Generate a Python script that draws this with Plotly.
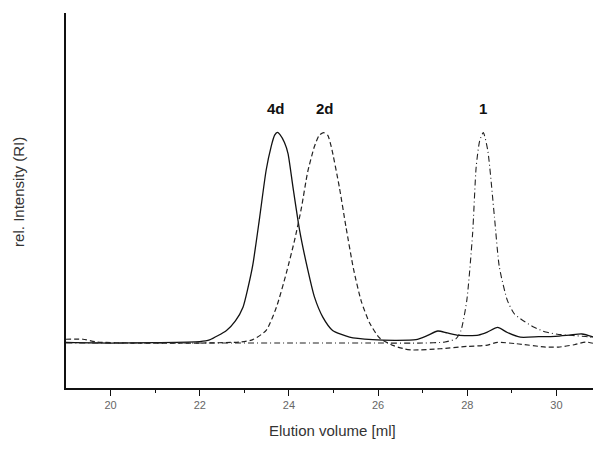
import plotly.graph_objects as go

# Elution volume (ml) and relative RI intensity
x_4d = [19.0, 20.0, 21.0, 22.0, 22.22, 22.6, 22.8, 22.97, 23.08, 23.19, 23.34, 23.49, 23.6, 23.68, 23.74, 23.8,
        23.9, 23.98, 24.09, 24.24, 24.42, 24.57, 24.76, 24.98, 25.36, 25.88, 26.4, 26.85, 27.1, 27.34, 27.55,
        27.82, 28.25, 28.45, 28.68, 28.9, 29.19, 29.6, 29.97, 30.3, 30.57, 30.8, 31.0]
y_4d = [0.3, 0.0, 0.2, 0.7, 1.5, 6.0, 10.5, 17.0, 26.0, 37.0, 59.0, 82.0, 93.0, 98.5, 99.8, 98.8,
        95.0, 89.8, 74.0, 53.4, 35.0, 22.0, 12.3, 6.0, 2.8, 1.6, 1.3, 1.6, 3.5, 5.7, 4.8,
        3.6, 3.8, 5.2, 7.4, 5.0, 2.8, 3.0, 3.2, 3.8, 4.3, 3.0, 1.2]

x_2d = [19.0, 19.38, 19.7, 20.5, 22.0, 22.9, 23.19, 23.49, 23.72, 23.94, 24.13, 24.28, 24.42, 24.57, 24.68,
        24.78, 24.87, 24.95, 25.13, 25.28, 25.45, 25.62, 25.81, 26.03, 26.33, 26.6, 26.79, 27.39, 27.99,
        28.42, 28.68, 29.1, 29.76, 30.05, 30.4, 30.66, 31.0]
y_2d = [1.8, 1.8, 0.5, 0.0, 0.0, 0.5, 1.6, 6.0, 17.0, 33.0, 49.0, 64.0, 81.0, 93.0, 98.5,
        99.7, 98.5, 93.0, 74.0, 55.0, 35.0, 20.0, 9.5, 2.5, -1.1, -2.8, -3.3, -2.7, -1.6,
        -1.1, 0.3, -0.3, -1.9, -1.9, -0.8, 0.5, -1.1]

x_1 = [19.0, 20.0, 22.0, 24.0, 26.0, 27.0, 27.5, 27.75, 27.86, 27.99, 28.12, 28.2, 28.28, 28.36, 28.46, 28.61,
       28.72, 28.9, 29.05, 29.24, 29.5, 29.76, 30.1, 30.36, 30.7, 30.98]
y_1 = [0.0, 0.0, 0.0, 0.0, 0.0, 0.0, 0.5, 2.1, 6.0, 20.2, 51.8, 83.4, 96.0, 99.7, 91.3, 59.7,
       36.0, 20.2, 14.0, 10.8, 7.5, 5.2, 4.0, 3.6, 3.0, 2.1]

peak_labels = ["4d", "2d", "1"]
peak_pos = [23.72, 24.82, 28.36]

x_ticks = [20, 22, 24, 26, 28, 30]

FONT = "Liberation Sans, Arial"

fig = go.Figure()
fig.add_trace(go.Scatter(x=x_4d, y=y_4d, mode="lines",
                         line=dict(color="#111111", width=1.3, shape="spline", smoothing=0.6)))
fig.add_trace(go.Scatter(x=x_2d, y=y_2d, mode="lines",
                         line=dict(color="#222222", width=1.2, dash="5px,3px", shape="spline", smoothing=0.6)))
fig.add_trace(go.Scatter(x=x_1, y=y_1, mode="lines",
                         line=dict(color="#222222", width=1.1, dash="6px,3px,1px,3px", shape="spline", smoothing=0.6)))

for lab, px in zip(peak_labels, peak_pos):
    fig.add_annotation(x=px, y=111, text="<b>" + lab + "</b>", showarrow=False,
                       font=dict(family=FONT, size=15, color="#111111"),
                       xanchor="center", yanchor="middle")

# axis titles as annotations for exact placement
fig.add_annotation(xref="paper", yref="paper", x=0.499, y=0, yshift=-42,
                   text="Elution volume [ml]", showarrow=False,
                   font=dict(family=FONT, size=15, color="#333333"),
                   xanchor="center", yanchor="middle")
fig.add_annotation(xref="paper", yref="paper", x=0, xshift=-47, y=0.523,
                   text="rel. Intensity (RI)", showarrow=False, textangle=-90,
                   font=dict(family=FONT, size=15, color="#333333"),
                   xanchor="center", yanchor="middle")

# the page adds an 8px body margin, so the figure is sized to land the plot area where the reference has it
fig.update_layout(
    width=593, height=441,
    margin=dict(l=58, r=0, t=5, b=61),
    paper_bgcolor="white", plot_bgcolor="white",
    showlegend=False,
    xaxis=dict(range=[19, 31], tickvals=x_ticks, ticktext=[str(v) for v in x_ticks], automargin=False,
               showgrid=False, zeroline=False, showline=True, linecolor="#111111", linewidth=1.5,
               ticks="outside", ticklen=6, tickwidth=1.3, tickcolor="#111111",
               minor=dict(tickvals=[21, 23, 25, 27, 29], ticks="outside", ticklen=3, tickcolor="#111111"),
               tickfont=dict(family=FONT, size=11, color="#666666")),
    yaxis=dict(range=[-21.3, 156.4], showticklabels=False, showgrid=False, zeroline=False, automargin=False,
               showline=True, linecolor="#111111", linewidth=1.5, ticks=""),
)

fig.write_html("out.html")
